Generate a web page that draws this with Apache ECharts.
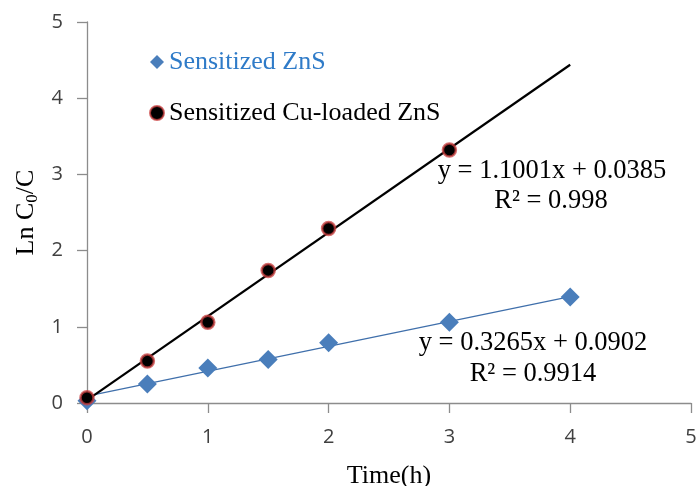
<!DOCTYPE html>
<html>
<head>
<meta charset="utf-8">
<script src="https://cdn.jsdelivr.net/npm/echarts@6/dist/echarts.min.js"></script>
<style>
  html, body { margin: 0; padding: 0; background: #fff; }
  #main { width: 697px; height: 486px; }
</style>
</head>
<body>
<div id="main"></div>
<script>
// measured points (Time h, Ln C0/C)
var timeZnS = [0, 0.5, 1, 1.5, 2, 3, 4];
var lnZnS = [0.03, 0.25, 0.46, 0.57, 0.79, 1.06, 1.39];
var timeCu = [0, 0.5, 1, 1.5, 2, 3];
var lnCu = [0.07, 0.55, 1.06, 1.74, 2.29, 3.32];
// linear trend line ends
var trendZnS = [[0, 0.0902], [4, 1.3962]];
var trendCu = [[0, 0.0385], [4, 4.4389]];
var xTicks = [0, 1, 2, 3, 4, 5];
var eqTexts = ['y = 1.1001x + 0.0385', 'R² = 0.998', 'y = 0.3265x + 0.0902', 'R² = 0.9914'];

var serif = '"Liberation Serif", "DejaVu Serif", serif';
var blue = '#4a7ebb';

function pairs(xs, ys) {
  return xs.map(function (x, i) { return [x, ys[i]]; });
}

function eq(text, x, y) {
  return { type: 'text', x: x, y: y, silent: true,
    style: { text: text, font: '26.5px ' + serif, fill: '#000', align: 'center', verticalAlign: 'middle' } };
}

var chart = echarts.init(document.getElementById('main'));
var option = {
  animation: false,
  grid: { left: 87, right: 6, top: 22, bottom: 83, outerBoundsMode: 'none' },
  legend: {
    orient: 'vertical',
    left: 144,
    top: 44,
    itemGap: 25,
    itemWidth: 14,
    itemHeight: 14,
    textStyle: { fontFamily: serif, fontSize: 26 },
    data: [
      { name: 'Sensitized ZnS', icon: 'diamond', textStyle: { color: '#2f7bc8' } },
      { name: 'Sensitized Cu-loaded ZnS', icon: 'circle', textStyle: { color: '#000' } }
    ]
  },
  xAxis: {
    type: 'value',
    min: 0, max: 5, interval: 1,
    name: 'Time(h)',
    nameLocation: 'middle',
    nameGap: 60,
    nameTextStyle: { fontFamily: serif, fontSize: 26, color: '#000' },
    axisLine: { lineStyle: { color: '#8c8c8c', width: 1.3 } },
    axisTick: { show: true, length: 10, inside: false, lineStyle: { color: '#8c8c8c', width: 1.3 } },
    axisLabel: { margin: 24, fontFamily: '"Open Sans", sans-serif', fontSize: 20, color: '#404040',
      formatter: function (v) { return xTicks.indexOf(v) >= 0 ? String(v) : ''; } },
    splitLine: { show: false }
  },
  yAxis: {
    type: 'value',
    min: 0, max: 5, interval: 1,
    name: '{n|Ln C}{s|0}{n|/C}',
    nameLocation: 'middle',
    nameGap: 46,
    nameRotate: 90,
    nameTextStyle: {
      rich: {
        n: { fontFamily: serif, fontSize: 26, color: '#000' },
        s: { fontFamily: serif, fontSize: 17, color: '#000', padding: [12, 0, 0, 0] }
      }
    },
    axisLine: { show: true, lineStyle: { color: '#8c8c8c', width: 1.3 } },
    axisTick: { show: true, length: 10, lineStyle: { color: '#8c8c8c', width: 1.3 } },
    axisLabel: { margin: 24, fontFamily: '"Open Sans", sans-serif', fontSize: 20, color: '#404040' },
    splitLine: { show: false }
  },
  graphic: [
    eq(eqTexts[0], 552, 171),
    eq(eqTexts[1], 551, 201),
    eq(eqTexts[2], 533, 343),
    eq(eqTexts[3], 533, 374)
  ],
  series: [
    {
      name: 'trendZnS',
      type: 'line',
      data: trendZnS,
      symbol: 'none',
      lineStyle: { color: '#3f6fab', width: 1.2 },
      z: 1
    },
    {
      name: 'trendCu',
      type: 'line',
      data: trendCu,
      symbol: 'none',
      lineStyle: { color: '#000', width: 2.2 },
      z: 1
    },
    {
      name: 'Sensitized ZnS',
      type: 'scatter',
      data: pairs(timeZnS, lnZnS),
      symbol: 'diamond',
      symbolSize: 19,
      itemStyle: { color: blue, opacity: 1 },
      z: 2
    },
    {
      name: 'Sensitized Cu-loaded ZnS',
      type: 'scatter',
      data: pairs(timeCu, lnCu),
      symbol: 'circle',
      symbolSize: 13,
      itemStyle: { color: '#000', borderColor: 'rgba(200,60,60,0.75)', borderWidth: 2.5, opacity: 1 },
      z: 3
    }
  ]
};
chart.setOption(option);
</script>
</body>
</html>
